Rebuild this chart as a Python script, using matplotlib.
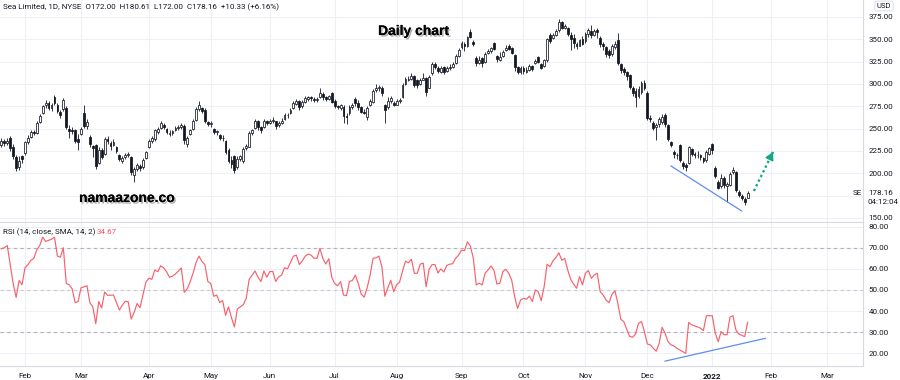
import numpy as np
import pandas as pd
import matplotlib
matplotlib.use("Agg")
import matplotlib.pyplot as plt
import matplotlib.patheffects as pe

plt.rcParams["font.family"] = ["Roboto", "DejaVu Sans"]

# daily OHLC, Sea Limited (SE), one value per trading day from 2021-01-20
opens = [232, 236, 234, 240, 230, 218, 207, 219, 223, 235,
         241, 246, 245, 257, 267, 276, 279, 273, 285, 277,
         269, 272, 273, 250, 249, 248, 238, 244, 268, 253,
         241, 231, 232, 212, 226, 222, 238, 234, 232, 229,
         220, 214, 218, 221, 218, 198, 205, 208, 207, 217,
         229, 236, 238, 246, 251, 254, 250, 244, 245, 249,
         251, 252, 253, 233, 244, 250, 260, 272, 273, 271,
         257, 255, 250, 246, 243, 239, 236, 226, 215, 219,
         207, 216, 214, 228, 230, 245, 251, 259, 252, 252,
         259, 256, 258, 258, 254, 256, 261, 265, 268, 273,
         278, 281, 275, 280, 283, 285, 283, 282, 285, 289,
         285, 283, 290, 281, 275, 273, 274, 264, 267, 274,
         283, 279, 274, 269, 263, 276, 280, 293, 295, 296,
         276, 274, 281, 279, 277, 281, 285, 300, 305, 306,
         309, 304, 300, 305, 307, 296, 312, 322, 318, 313,
         319, 314, 318, 319, 323, 331, 341, 345, 342, 358,
         347, 329, 324, 329, 325, 335, 337, 346, 331, 327,
         331, 338, 342, 340, 332, 319, 313, 318, 313, 316,
         320, 323, 330, 322, 320, 327, 355, 351, 355, 360,
         369, 363, 363, 355, 352, 345, 343, 350, 348, 356,
         359, 355, 360, 352, 345, 341, 337, 333, 341, 349,
         322, 317, 313, 310, 296, 292, 287, 291, 301, 290,
         262, 256, 252, 255, 257, 265, 254, 235, 224, 221,
         232, 212, 209, 212, 227, 222, 220, 221, 217, 215,
         222, 233, 206, 190, 186, 195, 186, 187, 201, 202,
         179, 175, 171, 172.00]
highs = [240, 238, 239, 242, 233, 220, 219, 220, 236, 243,
         248, 248, 258, 266, 277, 282, 281, 279, 288, 279,
         271, 284, 275, 254, 252, 250, 244, 252, 276, 261,
         243, 232, 233, 230, 228, 241, 242, 236, 238, 231,
         222, 219, 223, 224, 219, 207, 211, 210, 217, 225,
         238, 242, 250, 252, 258, 256, 251, 249, 248, 253,
         254, 256, 255, 242, 250, 261, 274, 281, 274, 273,
         259, 258, 251, 249, 244, 243, 237, 228, 219, 221,
         219, 221, 229, 233, 247, 250, 261, 260, 253, 261,
         260, 261, 263, 259, 258, 262, 267, 268, 273, 281,
         283, 282, 282, 286, 287, 286, 285, 285, 296, 291,
         287, 288, 291, 283, 277, 278, 276, 268, 276, 279,
         285, 282, 275, 272, 275, 283, 294, 300, 299, 298,
         278, 285, 286, 281, 283, 284, 301, 308, 309, 312,
         310, 306, 307, 312, 308, 310, 325, 325, 320, 320,
         320, 320, 322, 325, 333, 340, 348, 347, 354, 362,
         349, 331, 331, 330, 336, 339, 341, 347, 332, 336,
         338, 344, 345, 341, 333, 320, 320, 320, 319, 322,
         321, 328, 331, 323, 328, 352, 357, 357, 361, 373,
         371, 367, 364, 358, 356, 347, 350, 354, 358, 363,
         366, 362, 363, 354, 347, 342, 339, 345, 348, 357,
         324, 319, 315, 311, 298, 295, 298, 303, 305, 292,
         265, 258, 256, 263, 266, 268, 255, 236, 226, 223,
         233, 214, 211, 231, 228, 224, 225, 222, 218, 226,
         230, 234, 208, 192, 199, 197, 190, 201, 207, 203,
         181, 177, 173, 180.61]
lows = [230, 231, 232, 225, 216, 203, 204, 212, 221, 233,
        240, 243, 244, 256, 266, 273, 271, 270, 277, 268,
        262, 270, 250, 240, 244, 234, 226, 243, 251, 250,
        230, 218, 205, 210, 216, 220, 233, 226, 231, 223,
        214, 211, 216, 218, 198, 190, 203, 203, 205, 216,
        228, 234, 236, 244, 250, 250, 244, 242, 243, 247,
        249, 250, 233, 230, 243, 249, 259, 270, 267, 256,
        253, 252, 244, 243, 237, 236, 222, 212, 206, 200,
        205, 214, 212, 226, 229, 243, 250, 249, 245, 251,
        254, 255, 256, 250, 252, 255, 260, 262, 266, 272,
        276, 271, 273, 279, 281, 281, 280, 280, 284, 282,
        281, 282, 279, 273, 272, 271, 256, 255, 265, 272,
        275, 271, 268, 266, 260, 275, 279, 291, 292, 287,
        256, 272, 279, 275, 276, 279, 284, 299, 303, 304,
        297, 296, 299, 304, 286, 295, 310, 317, 312, 312,
        311, 313, 316, 318, 322, 330, 339, 337, 341, 351,
        343, 320, 322, 319, 324, 333, 335, 338, 325, 326,
        330, 337, 338, 333, 315, 311, 311, 311, 312, 315,
        315, 322, 324, 317, 319, 325, 346, 350, 354, 358,
        361, 361, 354, 338, 340, 339, 342, 344, 346, 353,
        352, 354, 352, 341, 338, 330, 329, 331, 339, 321,
        312, 310, 305, 294, 287, 274, 284, 289, 293, 260,
        257, 248, 237, 252, 255, 252, 236, 229, 217, 216,
        213, 205, 203, 210, 219, 217, 217, 215, 212, 213,
        220, 222, 195, 182, 184, 184, 168, 186, 199, 179,
        173, 170, 165, 172.00]
closes = [236, 234, 236, 228, 219, 206, 214, 216, 235, 240,
          246, 245, 256, 264, 275, 279, 273, 276, 279, 270,
          265, 282, 252, 247, 247, 236, 235, 250, 253, 257,
          233, 228, 208, 226, 218, 238, 236, 231, 235, 225,
          216, 217, 221, 221, 201, 205, 209, 206, 215, 224,
          236, 240, 248, 250, 256, 252, 246, 245, 247, 251,
          252, 254, 237, 239, 248, 259, 272, 277, 270, 258,
          255, 256, 246, 247, 239, 240, 224, 214, 210, 204,
          216, 219, 227, 231, 245, 249, 259, 252, 249, 259,
          256, 259, 260, 253, 256, 258, 265, 265, 271, 279,
          281, 274, 280, 284, 285, 284, 282, 283, 290, 285,
          283, 286, 280, 275, 274, 277, 264, 263, 274, 276,
          279, 274, 269, 268, 273, 281, 292, 295, 297, 290,
          271, 281, 284, 277, 281, 282, 299, 306, 306, 309,
          299, 299, 305, 307, 291, 308, 322, 319, 314, 318,
          313, 318, 319, 322, 331, 338, 346, 343, 353, 353,
          345, 323, 327, 323, 334, 337, 340, 339, 328, 330,
          336, 340, 339, 335, 319, 313, 318, 314, 316, 320,
          317, 326, 325, 318, 327, 350, 348, 355, 359, 369,
          363, 365, 356, 350, 346, 342, 349, 345, 356, 360,
          355, 359, 358, 345, 342, 334, 332, 342, 345, 323,
          316, 313, 309, 297, 290, 285, 294, 301, 296, 262,
          261, 251, 254, 261, 263, 255, 238, 232, 222, 220,
          215, 208, 207, 229, 222, 220, 221, 218, 214, 224,
          228, 226, 197, 184, 195, 187, 188, 199, 204, 181,
          176, 172, 167.83, 178.16]
rsi = [69.5, 70, 71, 62, 53, 46.5, 54.5, 52.5, 60.5, 62,
       64, 65, 69, 71, 75, 73, 73.5, 74, 75, 66,
       65.5, 70, 53, 52.5, 50.5, 44, 44.5, 51, 51.5, 52,
       44, 42, 34, 44.5, 41.5, 49, 47.5, 47.5, 47.6, 44,
       40.5, 42.8, 44.6, 44.4, 36.2, 39.3, 43.6, 41.6, 47.6, 53.7,
       55.6, 55, 59.5, 58.6, 61.4, 60.5, 58.6, 56, 56.5, 57.6,
       59, 60.4, 48.9, 50.5, 53.9, 58, 63, 66, 63.5, 62,
       54, 53, 47, 47.6, 44, 45, 38, 42, 36.9, 32.5,
       41, 42, 43, 46, 55, 57, 59, 56, 54, 59,
       56, 58.7, 58.8, 54, 56.2, 57, 60.5, 60, 63, 66,
       66.5, 62, 63.8, 66, 67, 66.5, 65, 65, 69.7, 64.8,
       62.3, 64.8, 56, 53, 52, 54, 47.6, 47.3, 54, 54.5,
       57, 53, 48, 46.6, 51, 57, 65, 65.2, 66, 61,
       47, 51, 54.6, 49.2, 52.5, 53.7, 59, 63.6, 62.9, 64.5,
       57.9, 57.9, 62.2, 62.7, 51.5, 59.8, 62, 62, 58, 60,
       58.5, 61.6, 62.2, 62.4, 65, 66.5, 68.9, 68.6, 72.8, 70.7,
       65, 52.4, 53.2, 52.4, 57.9, 59.5, 61.4, 59.2, 52.8, 53.2,
       58.7, 59.8, 57.9, 54.7, 46.8, 41.3, 45.2, 46, 45.6, 47.1,
       44.5, 50, 49.2, 44.9, 51.5, 62.2, 61, 63.8, 65.4, 67.6,
       64.1, 64.9, 59.4, 55, 52.8, 50.8, 56.3, 52.4, 57.9, 59.2,
       55.5, 57.1, 57.9, 49.2, 47.6, 45.2, 44, 48, 49.6, 43.6,
       36.1, 35, 31.4, 28, 27.6, 29.2, 34.2, 35, 30.3, 24.4,
       24, 22.4, 21, 24.7, 32.3, 29.5, 25.5, 24, 23.5, 22.4,
       21.6, 20.8, 20, 34.6, 33.5, 33, 32.5, 31.9, 30.8, 37.8,
       37.8, 37.8, 29.6, 25.5, 30.3, 28.8, 28.8, 37.1, 37.8, 31.1,
       29.2, 28.5, 27.9, 34.67]

nyse_holidays = ["2021-02-15", "2021-04-02", "2021-05-31", "2021-07-05",
                 "2021-09-06", "2021-11-25", "2021-12-24", "2022-01-17",
                 "2022-02-21"]
price_ticks = [150, 175, 200, 225, 250, 275, 300, 325, 350, 375]
rsi_ticks = [20, 30, 40, 50, 60, 70, 80]
rsi_levels = [70, 50, 30]

# drawings: (bar index, value)
price_trend = [(227, 208.2), (251, 157.8)]
rsi_trend = [(225, 16.3), (259, 27.1)]
arrow_pts = [(255.1, 180.2), (261.6, 223.9)]

last_price = 178.16
header = "Sea Limited, 1D, NYSE  O172.00  H180.61  L172.00  C178.16  +10.33 (+6.16%)"

# trading calendar (bars are spaced by trading day, like TradingView)
dates = pd.bdate_range("2021-01-20", "2022-03-31", freq="C", holidays=nyse_holidays)
month_pos, month_lab = [], []
for i in range(1, len(dates)):
    if dates[i].month != dates[i - 1].month:
        month_pos.append(i)
        month_lab.append(str(dates[i].year) if dates[i].month == 1 else dates[i].strftime("%b"))

W, H = 900, 380
fig = plt.figure(figsize=(9, 3.8), dpi=100)
plot_w = 863
ax = fig.add_axes([0, 1 - 222 / H, plot_w / W, 222 / H])
ax2 = fig.add_axes([0, 1 - 366 / H, plot_w / W, 143 / H])

txt = "#131722"
grid_c = "#eef0f5"
edge_c = "#d6d9e0"

o = np.array(opens, dtype=float)
h = np.array(highs, dtype=float)
l = np.array(lows, dtype=float)
c = np.array(closes, dtype=float)
x = np.arange(len(c))
up = c >= o

ax.vlines(x, l, h, color=txt, lw=0.6, zorder=2)
ax.bar(x[up], np.maximum(c - o, 0.4)[up], bottom=o[up], width=0.62,
       color="white", edgecolor=txt, linewidth=0.55, zorder=3)
ax.bar(x[~up], (o - c)[~up], bottom=c[~up], width=0.62,
       color=txt, edgecolor=txt, linewidth=0.55, zorder=3)

xmin, xmax = -0.47, 292.1
for a in (ax, ax2):
    a.set_xlim(xmin, xmax)
    a.set_xticks(month_pos)
    a.grid(True, color=grid_c, lw=0.8, zorder=0)
    a.set_axisbelow(True)
    for s in ("top", "left"):
        a.spines[s].set_visible(False)
    a.spines["right"].set_color(edge_c)
    a.spines["bottom"].set_color(edge_c)
    a.yaxis.tick_right()
    a.tick_params(axis="y", length=0, pad=4, labelsize=5.8, labelcolor=txt)

ax.set_ylim(145.5, 394.0)
ax.set_yticks(price_ticks)
ax.set_yticklabels(["" if abs(t - last_price) < 10 else f"{t:.2f}" for t in price_ticks])
ax.tick_params(axis="x", length=0, labelbottom=False)

# trendline + projected move
ax.plot([p[0] for p in price_trend], [p[1] for p in price_trend], color="#5b8ff0", lw=0.9, zorder=4)
ax.plot([p[0] for p in arrow_pts], [p[1] for p in arrow_pts], color="#17a589",
        lw=1.7, ls=(0, (1, 1.2)), zorder=4)
ax.annotate("", xy=arrow_pts[1], xytext=(arrow_pts[1][0] - 0.6, arrow_pts[1][1] - 4),
            arrowprops=dict(arrowstyle="-|>,head_length=0.45,head_width=0.25",
                            color="#17a589", lw=1.2))

# RSI pane
ax2.plot(x, rsi, color="#f7616c", lw=0.85, zorder=3)
for lv in rsi_levels:
    ax2.axhline(lv, color="#a3a6af", lw=0.8, ls=(0, (3, 3)),
                alpha=0.5 if lv == 50 else 0.85, zorder=1)
ax2.plot([p[0] for p in rsi_trend], [p[1] for p in rsi_trend], color="#5b8ff0", lw=0.9, zorder=4)
ax2.set_ylim(14.0, 81.7)
ax2.set_yticks(rsi_ticks)
ax2.set_yticklabels([f"{t:.2f}" for t in rsi_ticks])
ax2.set_xticklabels(month_lab)
ax2.tick_params(axis="x", length=0, pad=5, labelsize=5.8, labelcolor=txt)
for lab in ax2.get_xticklabels():
    if lab.get_text().isdigit():
        lab.set_fontweight("bold")


def ftext(px, py, s, **kw):
    return fig.text(px / W, 1 - py / H, s, **kw)


ftext(3, 7, header, fontsize=5.8, color=txt, va="center")
ftext(3, 232, "RSI (14, close, SMA, 14, 2)", fontsize=5.8, color=txt, va="center")
ftext(97, 232, f"{rsi[-1]:.2f}", fontsize=5.8, color="#f7525f", va="center")

ftext(868, 193, f"{last_price:.2f}", fontsize=5.8, color=txt, va="center")
ftext(868, 202, "04:12:04", fontsize=5.8, color=txt, va="center")
ftext(853, 193, "SE", fontsize=5.8, color=txt, va="center")
ftext(884, 6, "USD", fontsize=5.5, color=txt, va="center", ha="center",
      bbox=dict(boxstyle="round,pad=0.25", fc="white", ec=edge_c, lw=0.6))

shadow = [pe.withSimplePatchShadow(offset=(1.2, -1.2), shadow_rgbFace="#555555", alpha=0.45),
          pe.Normal()]
ftext(378, 31, "Daily chart", fontsize=10, fontweight="bold", color="black",
      family=["Liberation Sans", "DejaVu Sans"], va="center", path_effects=shadow)
ftext(79, 198, "namaazone.co", fontsize=10, fontweight="bold", color="black",
      family=["Liberation Sans", "DejaVu Sans"], va="center", path_effects=shadow)

fig.savefig("out.png", dpi=100)
